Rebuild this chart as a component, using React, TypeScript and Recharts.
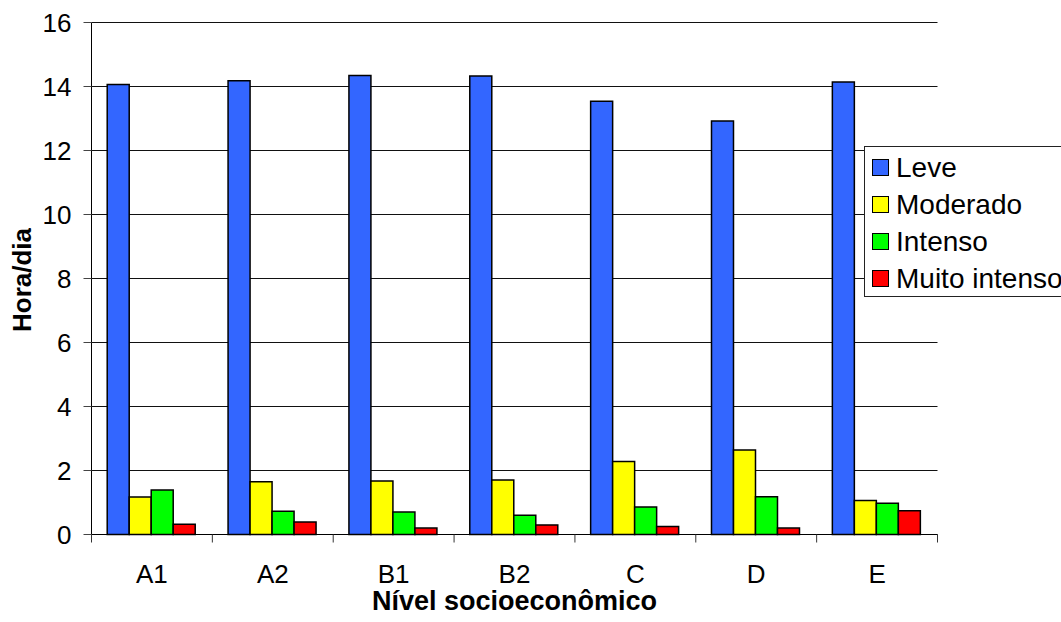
import { Bar, BarChart, CartesianGrid, XAxis, YAxis } from "recharts";

const categories = ["A1", "A2", "B1", "B2", "C", "D", "E"];
const leve = [14.06, 14.18, 14.34, 14.33, 13.54, 12.92, 14.14];
const moderado = [1.17, 1.65, 1.67, 1.7, 2.28, 2.64, 1.06];
const intenso = [1.39, 0.73, 0.7, 0.6, 0.86, 1.18, 0.98];
const muitoIntenso = [0.32, 0.39, 0.2, 0.3, 0.25, 0.2, 0.74];
const yTicks = [0, 2, 4, 6, 8, 10, 12, 14, 16];

const series = [
  { key: "leve", name: "Leve", color: "#3366FF" },
  { key: "moderado", name: "Moderado", color: "#FFFF00" },
  { key: "intenso", name: "Intenso", color: "#00FF00" },
  { key: "muitoIntenso", name: "Muito intenso", color: "#FF0000" },
];

const data = categories.map((c, i) => ({
  cat: c,
  leve: leve[i],
  moderado: moderado[i],
  intenso: intenso[i],
  muitoIntenso: muitoIntenso[i],
}));

const FONT = '"Liberation Sans", Arial, sans-serif';
const W = 1061;
const H = 622;
const PLOT_LEFT = 91.5;
const PLOT_RIGHT = 937.5;
const PLOT_TOP = 22.5;
const PLOT_BOTTOM = 534.5;
const BW = (PLOT_RIGHT - PLOT_LEFT) / categories.length;

function XTick(props: any) {
  const { x, payload, index } = props;
  const last = index === categories.length - 1;
  return (
    <g>
      <line x1={x - BW / 2} y1={PLOT_BOTTOM} x2={x - BW / 2} y2={PLOT_BOTTOM + 8} stroke="#333" />
      {last && (
        <line x1={x + BW / 2} y1={PLOT_BOTTOM} x2={x + BW / 2} y2={PLOT_BOTTOM + 8} stroke="#333" />
      )}
      <text x={x} y={582.5} textAnchor="middle" fontSize={26} fontFamily={FONT} fill="#000">
        {payload.value}
      </text>
    </g>
  );
}

export default function App() {
  const midY = 280;
  return (
    <div
      style={{
        position: "fixed",
        left: 0,
        top: 0,
        width: W,
        height: H,
        overflow: "hidden",
        background: "#fff",
        fontFamily: FONT,
      }}
    >
      <BarChart
        width={W}
        height={H}
        data={data}
        margin={{ top: PLOT_TOP, right: W - PLOT_RIGHT, bottom: 0, left: 0 }}
        barCategoryGap="13%"
        barGap={0}
      >
        <CartesianGrid vertical={false} stroke="#111" />
        <XAxis
          dataKey="cat"
          height={H - PLOT_BOTTOM}
          tickLine={false}
          axisLine={{ stroke: "#000" }}
          interval={0}
          tick={<XTick />}
          label={{
            content: () => (
              <text
                x={(PLOT_LEFT + PLOT_RIGHT) / 2}
                y={610}
                textAnchor="middle"
                fontSize={27}
                fontWeight="bold"
                fontFamily={FONT}
                fill="#000"
              >
                Nível socioeconômico
              </text>
            ),
          }}
        />
        <YAxis
          width={PLOT_LEFT}
          domain={[0, 16]}
          ticks={yTicks}
          interval={0}
          tickSize={8}
          tickMargin={12}
          tickLine={{ stroke: "#444" }}
          axisLine={{ stroke: "#000" }}
          tick={{ fontSize: 26, fill: "#000", fontFamily: FONT }}
          label={{
            content: () => (
              <text
                x={30.5}
                y={midY}
                transform={`rotate(-90 30.5 ${midY})`}
                textAnchor="middle"
                fontSize={26}
                fontWeight="bold"
                fontFamily={FONT}
                fill="#000"
              >
                Hora/dia
              </text>
            ),
          }}
        />
        <YAxis
          yAxisId="right"
          orientation="right"
          width={0}
          domain={[0, 16]}
          tick={false}
          tickLine={false}
          axisLine={{ stroke: "#000" }}
        />
        {series.map((s) => (
          <Bar
            key={s.key}
            dataKey={s.key}
            name={s.name}
            fill={s.color}
            stroke="#000"
            strokeWidth={1.5}
            isAnimationActive={false}
          />
        ))}
      </BarChart>
      <div
        style={{
          position: "absolute",
          left: 864,
          top: 146,
          width: 240,
          height: 151,
          border: "1px solid #222",
          background: "#fff",
          paddingTop: 2,
          boxSizing: "border-box",
        }}
      >
        {series.map((s) => (
          <div
            key={s.key}
            style={{
              height: 37,
              display: "flex",
              alignItems: "center",
              paddingLeft: 7,
              fontSize: 28,
              whiteSpace: "nowrap",
              color: "#000",
            }}
          >
            <span
              style={{
                display: "inline-block",
                width: 15,
                height: 15,
                background: s.color,
                border: "1.5px solid #000",
                marginRight: 7,
              }}
            />
            {s.name}
          </div>
        ))}
      </div>
    </div>
  );
}
